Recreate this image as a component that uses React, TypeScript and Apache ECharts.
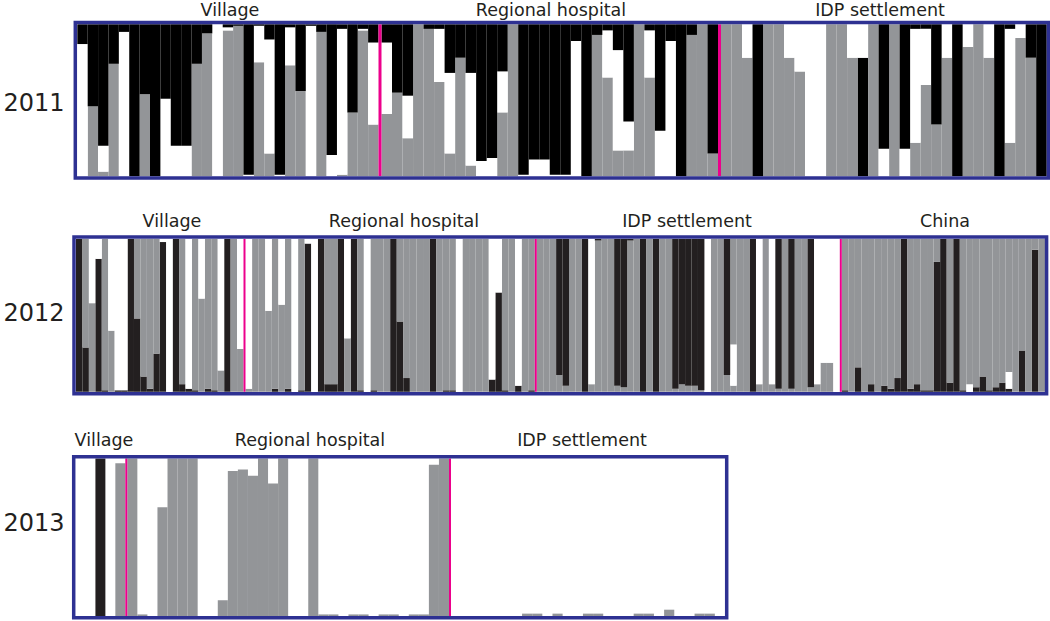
import React, { useEffect, useRef } from "react";
import * as echarts from "echarts";

// ---------------- DATA ----------------
const years = ["2011", "2012", "2013"];

const groups2011 = ["Village", "Regional hospital", "IDP settlement"];
const counts2011 = [29, 32, 31];
const blackLow2011 = [
  0,0,0,0,0,0,0,0,0,0, 0,0,0,0,0,0,0,0,0,0, 0,0,0,0,0,0,0,0,0,
  0,0,0,0,0,0,0,0,0,0, 0,0,0,0,0,0,0,0,0,0, 0,0,0,0,0,0,0,0,0,0, 0,0,
  0,0,0,0,0,0,0,0,0,0, 0,0,0,78,0,0,0,0,0,0, 0,0,0,0,0,0,0,0,0,0, 0,
];
const gray2011 = [
  0,46,3,74,0,0,54,0,0,0, 0,74,94,0,96,99,0,75,15,0, 73,56,0,95,0,1,42,96,34,
  41,55,25,100,97,62,15,78,7,0, 0,42,100,0,0,0,0,0,0,0, 93,65,17,17,100,65,0,0,0,93, 100,15,
  100,100,78,0,100,100,78,69,0,0, 100,100,78,0,100,0,100,0,22,60, 34,78,0,85,100,78,0,22,91,78, 0,
];
const white2011 = [
  87,0,17,0,95,0,0,0,51,20, 20,0,0,100,2,0,1,24,75,1, 25,0,99,0,14,96,0,1,54,
  47,0,28,0,0,35,53,0,61,10, 12,27,0,1,11,11,1,1,89,0, 0,31,66,19,0,31,30,89,0,0, 0,0,
  0,0,22,0,0,0,22,31,100,100, 0,0,22,22,0,18,0,18,75,37, 0,22,0,15,0,22,0,75,9,0, 0,
];
const blackHigh2011 = [
  13,54,80,26,5,100,46,100,49,80, 80,26,6,0,2,1,99,1,10,99, 2,44,1,5,86,3,58,3,12,
  12,45,47,0,3,3,32,22,32,90, 88,31,0,99,89,89,99,99,11,100, 7,4,17,64,0,4,70,11,100,7, 0,85,
  0,0,0,100,0,0,0,0,0,0, 0,0,0,0,0,82,0,82,3,3, 66,0,100,0,0,0,100,3,0,22, 100,
];

const groups2012 = ["Village", "Regional hospital", "IDP settlement", "China"];
const counts2012 = [26, 44, 47, 31];
const blackLow2012 = [
  100,29,0,87,1,0,1,1,100,48, 10,2,25,98,0,100,5,2,1,0, 2,1,0,100,0,0,
  0,0,0,0,2,0,2,0,1,97, 0,100,5,5,100,0,100,1,0,1, 0,0,100,46,9,0,0,0,100,0, 1,1,0,0,0,0,0,8,65,1, 0,4,0,1,
  0,0,0,0,0,0,0,100,0,0, 0,0,0,0,0,0,100,0,100,0, 0,0,0,0,0,0,0,0,0,0, 0,0,0,100,0,0,0,0,0,0, 0,0,0,0,0,0,0,
  1,0,16,0,5,0,4,2,9,100, 2,5,1,1,85,100,6,100,1,0, 3,10,1,3,6,2,0,27,0,93, 0,
];
const gray2012 = [
  0,71,58,0,99,40,0,0,0,52, 90,98,75,0,0,0,95,0,99,61, 98,99,14,0,100,28,
  2,100,100,53,98,57,98,0,99,0, 0,0,95,95,0,35,0,99,0,99, 100,100,0,54,91,100,100,100,0,100, 99,99,0,100,100,100,100,0,0,99, 100,0,100,99,
  100,100,100,11,4,100,100,0,5,99, 100,100,4,3,99,100,0,100,0,100, 100,2,5,4,4,1,0,100,100,11, 4,100,100,0,5,100,5,2,100,2, 100,100,3,5,19,19,0,
  99,100,84,100,95,100,96,98,91,0, 98,95,99,99,15,0,94,0,99,0, 97,90,99,97,94,0,100,73,100,7, 100,
];
const white2012 = [
  0,0,42,13,0,60,99,99,0,0, 0,0,0,2,100,0,0,98,0,39, 0,0,86,0,0,72,
  98,0,0,47,0,43,0,100,0,3, 100,0,0,0,0,65,0,0,100,0, 0,0,0,0,0,0,0,0,0,0, 0,0,100,0,0,0,0,92,35,0, 0,96,0,0,
  0,0,0,0,0,0,0,0,95,0, 0,0,0,0,0,0,0,0,0,0, 0,0,0,0,0,0,100,0,0,0, 27,0,0,0,95,0,95,0,0,0, 0,0,0,95,81,81,100,
  0,0,0,0,0,0,0,0,0,0, 0,0,0,0,0,0,0,0,0,5, 0,0,0,0,0,11,0,0,0,0, 0,
];
const grayHigh2012 = [
  0,0,0,0,0,0,0,0,0,0, 0,0,0,0,0,0,0,0,0,0, 0,0,0,0,0,0,
  0,0,0,0,0,0,0,0,0,0, 0,0,0,0,0,0,0,0,0,0, 0,0,0,0,0,0,0,0,0,0, 0,0,0,0,0,0,0,0,0,0, 0,0,0,0,
  0,0,0,0,0,0,0,0,0,0, 0,0,0,0,0,0,0,0,0,0, 0,0,0,0,0,0,0,0,0,0, 69,0,0,0,0,0,0,0,0,0, 0,0,0,0,0,0,0,
  0,0,0,0,0,0,0,0,0,0, 0,0,0,0,0,0,0,0,0,95, 0,0,0,0,0,87,0,0,0,0, 0,
];
const blackHigh2012 = [
  0,0,0,0,0,0,0,0,0,0, 0,0,0,0,0,0,0,0,0,0, 0,0,0,0,0,0,
  0,0,0,0,0,0,0,0,0,0, 0,0,0,0,0,0,0,0,0,0, 0,0,0,0,0,0,0,0,0,0, 0,0,0,0,0,0,0,0,0,0, 0,0,0,0,
  0,0,0,89,96,0,0,0,0,1, 0,0,96,97,1,0,0,0,0,0, 0,98,95,96,96,99,0,0,0,89, 0,0,0,0,0,0,0,98,0,98, 0,0,97,0,0,0,0,
  0,0,0,0,0,0,0,0,0,0, 0,0,0,0,0,0,0,0,0,0, 0,0,0,0,0,0,0,0,0,0, 0,
];

const groups2013 = ["Village", "Regional hospital", "IDP settlement"];
const counts2013 = [5, 32, 27];
const gray2013 = [
  0,0,0,0,97,
  100,1,0,69,100,100,100,0,0,10, 92,93,89,100,84,100,0,0,100,1, 1,0,1,1,0,1,1,0,1,1, 96,100,
  0,0,0,0,0,0,0,1.5,1.5,0, 1.5,0,0,1.5,1.5,0,0,0,1.5,1.5, 0,4,0,0,1.5,1.5,0,
];
const black2013 = [
  0,0,100,0,0,
  0,0,0,0,0,0,0,0,0,0, 0,0,0,0,0,0,0,0,0,0, 0,0,0,0,0,0,0,0,0,0, 0,0,
  0,0,0,0,0,0,0,0,0,0, 0,0,0,0,0,0,0,0,0,0, 0,0,0,0,0,0,0,
];

// ---------------- STYLE / LAYOUT ----------------
const BLACK11 = "#000000";
const BLACK = "#231f20";
const GRAY = "#939598";
const WHITE = "#ffffff";
const NAVY = "#2e3192";
const PINK = "#ec008c";
const FONT = '"DejaVu Sans", Verdana, sans-serif';

const panels = [
  {
    groups: groups2011,
    counts: counts2011,
    layers: [
      { values: blackLow2011, color: BLACK11 },
      { values: gray2011, color: GRAY },
      { values: white2011, color: WHITE },
      { values: blackHigh2011, color: BLACK11 },
    ],
  },
  {
    groups: groups2012,
    counts: counts2012,
    layers: [
      { values: blackLow2012, color: BLACK },
      { values: gray2012, color: GRAY },
      { values: white2012, color: WHITE },
      { values: grayHigh2012, color: GRAY },
      { values: blackHigh2012, color: BLACK },
    ],
  },
  {
    groups: groups2013,
    counts: counts2013,
    layers: [
      { values: gray2013, color: GRAY },
      { values: black2013, color: BLACK },
    ],
  },
];

const layouts = [
  { frame: [75.3, 22.6, 1048.4, 178.1], inner: [77.3, 24.3, 1046.7, 176.2], splits: [380, 719.5], pinkW: 3, labelX: [230, 551, 880], labelY: 10, yearY: 103 },
  { frame: [74, 237, 1046.6, 393.7], inner: [76, 239, 1045, 391.8], splits: [244.5, 535.8, 840.8], pinkW: 2, labelX: [172, 404, 687, 945], labelY: 221, yearY: 313 },
  { frame: [73.7, 456.7, 726.7, 617.8], inner: [75.5, 458.4, 725, 616], splits: [126.3, 450], pinkW: 2, labelX: [104, 310, 582], labelY: 440, yearY: 523 },
];

function buildOption() {
  const grid: any[] = [];
  const xAxis: any[] = [];
  const yAxis: any[] = [];
  const series: any[] = [];
  const elements: any[] = [];

  panels.forEach((panel, pi) => {
    const lay = layouts[pi];
    const [il, it, ir, ib] = lay.inner;
    let offset = 0;
    panel.counts.forEach((n, gi) => {
      const start = gi === 0 ? il : lay.splits[gi - 1] + lay.pinkW / 2;
      const end = gi === panel.counts.length - 1 ? ir : lay.splits[gi] - lay.pinkW / 2;
      const idx = grid.length;
      grid.push({ left: start, top: it, width: end - start, height: ib - it, show: false, containLabel: false });
      xAxis.push({
        type: "category",
        gridIndex: idx,
        data: Array.from({ length: n }, (_, k) => String(offset + k + 1)),
        show: false,
        boundaryGap: true,
      });
      yAxis.push({ type: "value", gridIndex: idx, min: 0, max: 100, show: false });
      panel.layers.forEach((layer, li) => {
        series.push({
          type: "bar",
          name: `${years[pi]}-${panel.groups[gi]}-${li}`,
          xAxisIndex: idx,
          yAxisIndex: idx,
          stack: "s" + idx,
          barCategoryGap: "0%",
          data: layer.values.slice(offset, offset + n),
          itemStyle: { color: layer.color },
          silent: true,
        });
      });
      offset += n;
    });

    // pink separators
    lay.splits.forEach((x) => {
      elements.push({
        type: "line",
        z: 90,
        silent: true,
        shape: { x1: x, y1: it, x2: x, y2: ib },
        style: { stroke: PINK, lineWidth: lay.pinkW },
      });
    });
    // frame
    const [fl, ft, fr, fb] = lay.frame;
    elements.push({
      type: "rect",
      z: 100,
      silent: true,
      shape: { x: fl, y: ft, width: fr - fl, height: fb - ft },
      style: { fill: "transparent", stroke: NAVY, lineWidth: 3.5 },
    });
    // group labels
    panel.groups.forEach((g, gi) => {
      elements.push({
        type: "text",
        z: 100,
        x: lay.labelX[gi],
        y: lay.labelY,
        style: { text: g, fill: BLACK, font: `17.5px ${FONT}`, textAlign: "center", textVerticalAlign: "middle" },
      });
    });
    // year label
    elements.push({
      type: "text",
      z: 100,
      x: 34,
      y: lay.yearY,
      style: { text: years[pi], fill: BLACK, font: `24px ${FONT}`, textAlign: "center", textVerticalAlign: "middle" },
    });
  });

  return {
    animation: false,
    backgroundColor: "#ffffff",
    grid,
    xAxis,
    yAxis,
    series,
    graphic: { elements },
  };
}

export default function App() {
  const ref = useRef<HTMLDivElement>(null);
  useEffect(() => {
    if (!ref.current) return;
    const chart = echarts.init(ref.current, undefined, { renderer: "svg" });
    chart.setOption(buildOption());
    return () => chart.dispose();
  }, []);
  return (
    <div
      ref={ref}
      style={{ position: "fixed", left: 0, top: 0, width: 1050, height: 621, background: "#fff" }}
    />
  );
}
